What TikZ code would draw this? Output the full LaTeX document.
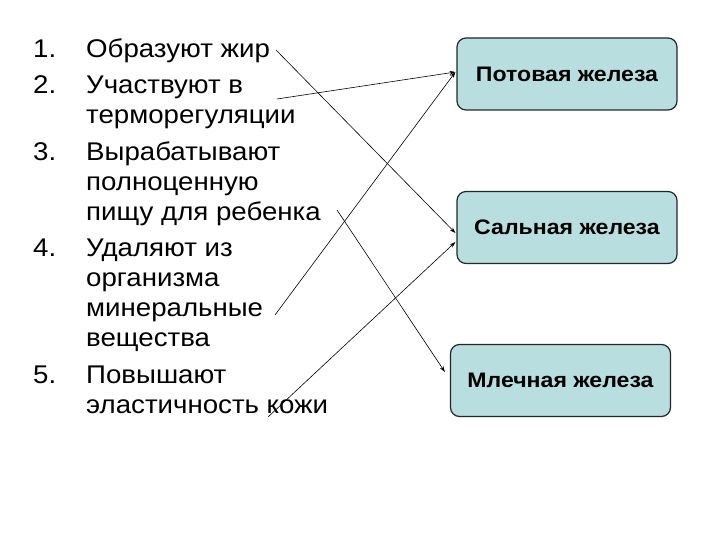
\documentclass[tikz,border=0pt]{standalone}
\usepackage{fontspec}
\setmainfont{Liberation Sans}
\newfontfamily\listfont[FakeStretch=1.08]{Liberation Sans}
\newfontfamily\boxfont[FakeStretch=1.1]{Liberation Sans Bold}
\usetikzlibrary{calc,arrows.meta}
\newcommand{\itemlines}[1]{\parbox[t]{280pt}{\raggedright\listfont\fontsize{25.6}{30}\selectfont #1}}
\tikzset{
  itemtext/.style={anchor=base west, inner sep=0pt},
  itemnum/.style={anchor=base west, inner sep=0pt, font=\listfont\fontsize{25.6}{30}\selectfont},
  gland/.style={draw=black!85, line width=1.2pt, rounded corners=9pt, fill=boxfill,
    minimum width=220pt, minimum height=72pt, font=\boxfont\fontsize{21}{24}\selectfont},
  link/.style={line width=0.6pt, -{Stealth[length=6pt,width=4pt]}}
}
\definecolor{boxfill}{HTML}{B8DEE0}
\begin{document}
\begin{tikzpicture}[x=1pt,y=-1pt]
\useasboundingbox (0,0) rectangle (720,540);
% list
\node[itemnum] (n1) at (33,58) {1.};
\node[itemtext] (t1) at (86,58) {\itemlines{Образуют жир}};
\node[itemnum] (n2) at (33,94) {2.};
\node[itemtext] (t2) at (86,94) {\itemlines{Участвуют в\\терморегуляции}};
\node[itemnum] (n3) at (33,161) {3.};
\node[itemtext] (t3) at (86,161) {\itemlines{Вырабатывают\\полноценную\\пищу для ребенка}};
\node[itemnum] (n4) at (33,256) {4.};
\node[itemtext] (t4) at (86,256) {\itemlines{Удаляют из\\организма\\минеральные\\вещества}};
\node[itemnum] (n5) at (33,383) {5.};
\node[itemtext] (t5) at (86,383) {\itemlines{Повышают\\эластичность кожи}};
% boxes
\node[gland] (pot) at (567,74) {Потовая железа};
\node[gland] (sal) at (567,227.5) {Сальная железа};
\node[gland] (mle) at (560.5,380.5) {Млечная железа};
% start points
\coordinate (s1) at (276,50);
\coordinate (s2) at (277,99);
\coordinate (s3) at (337,210);
\coordinate (s4) at (275,315);
\coordinate (s5) at (268,417);
% connectors
\draw[link] (s1) -- ($(sal.west)+(-1,5.5)$);
\draw[link] (s2) -- ($(pot.west)+(-1,-2)$);
\draw[link] (s3) -- ($(mle.west)+(-5,-8.5)$);
\draw[link] (s4) -- ($(pot.west)+(-1,-2)$);
\draw[link] (s5) -- ($(sal.west)+(-1,14.5)$);
\end{tikzpicture}
\end{document}
